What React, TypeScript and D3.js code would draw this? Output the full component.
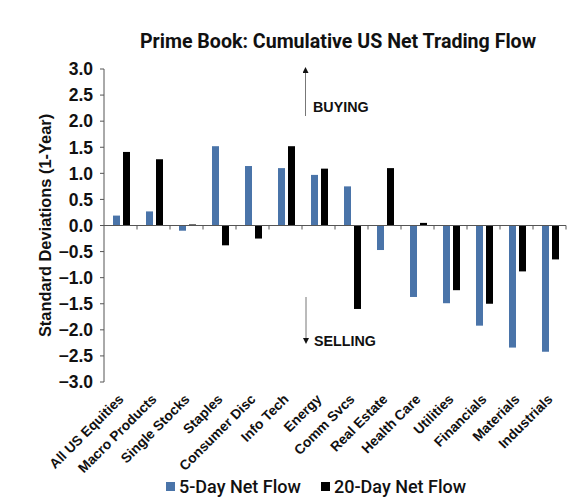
import React from "react";
import * as d3 from "d3";

const categories = [
  "All US Equities", "Macro Products", "Single Stocks", "Staples", "Consumer Disc",
  "Info Tech", "Energy", "Comm Svcs", "Real Estate", "Health Care",
  "Utilities", "Financials", "Materials", "Industrials",
];
const fiveDay = [0.19, 0.27, -0.1, 1.52, 1.14, 1.1, 0.97, 0.75, -0.47, -1.37, -1.49, -1.92, -2.34, -2.42];
const twentyDay = [1.41, 1.27, 0.02, -0.38, -0.25, 1.52, 1.09, -1.6, 1.1, 0.05, -1.24, -1.5, -0.88, -0.65];
const yTicks = [3, 2.5, 2, 1.5, 1, 0.5, 0, -0.5, -1, -1.5, -2, -2.5, -3];
const seriesNames = ["5-Day Net Flow", "20-Day Net Flow"];
const seriesColors = ["#4A74A9", "#000000"];

export default function App() {
  const W = 584, H = 502;
  const x0 = 104, x1 = 566, yTop = 69, yBot = 382;
  const x = d3.scaleBand<string>().domain(categories).range([x0, x1]).padding(0);
  const y = d3.scaleLinear().domain([-3, 3]).range([yBot, yTop]);
  const xs = d3.scaleBand<string>().domain(["s5", "s20"]).range([9, 26]).paddingInner(0.3);
  const axisColor = "#555";
  const y0 = y(0);
  const bars: any[] = [];
  categories.forEach((c, i) => {
    [fiveDay[i], twentyDay[i]].forEach((v, j) => {
      const key = j === 0 ? "s5" : "s20";
      bars.push(
        <rect key={c + key} x={(x(c) as number) + (xs(key) as number)} width={xs.bandwidth()}
          y={Math.min(y(v), y0)} height={Math.abs(y(v) - y0)} fill={seriesColors[j]} />
      );
    });
  });
  const fmt = d3.format(".1f");
  const font = "Liberation Sans, Arial";
  return (
    <svg width={W} height={H} style={{ position: "absolute", left: 0, top: 0 }}>
      <rect width={W} height={H} fill="#fff" />
      <text x={338} y={48} textAnchor="middle" fontFamily="Roboto" fontWeight={700} fontSize={19.6} fill="#111">
        Prime Book: Cumulative US Net Trading Flow
      </text>
      {/* y axis */}
      <line x1={x0} x2={x0} y1={yTop} y2={yBot} stroke={axisColor} />
      {yTicks.map((t) => (
        <g key={t}>
          <line x1={x0 - 4} x2={x0} y1={y(t)} y2={y(t)} stroke={axisColor} />
          <text x={x0 - 11} y={y(t)} dy="0.36em" textAnchor="end" fontFamily={font} fontWeight={700} fontSize={17.5} fill="#111">
            {fmt(t)}
          </text>
        </g>
      ))}
      <text transform={`translate(51,${(yTop + yBot) / 2}) rotate(-90)`} textAnchor="middle" fontFamily={font} fontWeight={700} fontSize={16.4} fill="#111">
        Standard Deviations (1-Year)
      </text>
      {bars}
      {/* x axis at zero */}
      <line x1={x0} x2={x1} y1={y0} y2={y0} stroke={axisColor} />
      {categories.map((c) => (
        <line key={c} x1={(x(c) as number) + x.bandwidth()} x2={(x(c) as number) + x.bandwidth()} y1={y0} y2={y0 + 4} stroke={axisColor} />
      ))}
      {categories.map((c) => {
        const cx = (x(c) as number) + x.bandwidth() / 2 + 4;
        return (
          <text key={c} transform={`translate(${cx},${yBot + 18}) rotate(-45)`} textAnchor="end" fontFamily={font} fontWeight={700} fontSize={13.8} fill="#111">
            {c}
          </text>
        );
      })}
      {/* annotations */}
      <defs>
        <marker id="ah" viewBox="0 0 10 10" refX="5" refY="5" markerWidth="6" markerHeight="6" orient="auto-start-reverse">
          <path d="M0,0 L10,5 L0,10 z" fill="#111" />
        </marker>
      </defs>
      <line x1={305.5} x2={305.5} y1={116} y2={70} stroke="#777" strokeWidth={1} markerEnd="url(#ah)" />
      <text x={313} y={112} fontFamily={font} fontWeight={700} fontSize={14.3} fill="#111">BUYING</text>
      <line x1={306} x2={306} y1={297} y2={341} stroke="#777" strokeWidth={1} markerEnd="url(#ah)" />
      <text x={314} y={346} fontFamily={font} fontWeight={700} fontSize={14.3} fill="#111">SELLING</text>
      {/* legend */}
      {seriesNames.map((n, i) => {
        const lx = i === 0 ? 166 : 321;
        return (
          <g key={n}>
            <rect x={lx} y={482} width={9} height={9} fill={seriesColors[i]} />
            <text x={lx + 13} y={493} fontFamily="Roboto" fontWeight={500} fontSize={18} fill="#111">{n}</text>
          </g>
        );
      })}
    </svg>
  );
}
